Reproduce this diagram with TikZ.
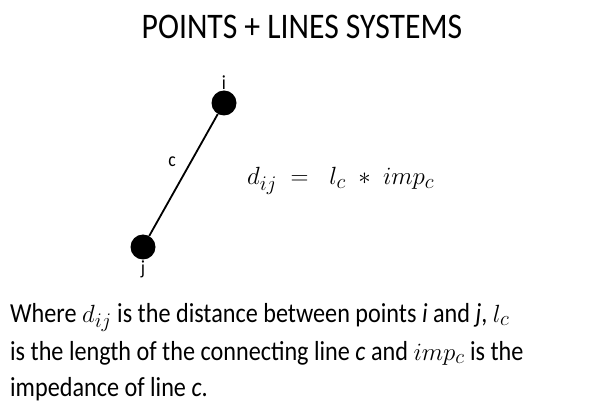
\documentclass[tikz,border=0pt]{standalone}
\usepackage{fontspec}
\setmainfont{Carlito}[FakeStretch=0.88]
\usetikzlibrary{positioning}

\begin{document}
\begin{tikzpicture}[
    x=1pt, y=-1pt,
    point/.style={circle, fill=black, inner sep=0pt, minimum size=25pt},
    plabel/.style={font=\fontsize{20}{24}\selectfont, inner sep=1pt},
    link/.style={line width=1.8pt},
    body/.style={anchor=base west, font=\fontsize{27.5}{37}\selectfont, inner sep=0pt}
]
\useasboundingbox (0,0) rectangle (592,406);

\node[font=\fontsize{36}{40}\selectfont, anchor=base, inner sep=0pt] (title) at (302,39) {POINTS + LINES SYSTEMS};

% the two points and their line
\node[point] (pi) at (224,103) {};
\node[point] (pj) at (143,247) {};
\draw[link] (pj) -- (pi);

\node[plabel, above=0pt of pi] (li) {i};
\node[plabel, below=0pt of pj] (lj) {j};
\node[plabel] (lc) at (172,162) {c};

% formula
\node[anchor=base west, inner sep=0pt, font=\fontsize{29}{34}\selectfont] (eq) at (247,185)
    {$d_{ij} \;=\;\; l_c \;*\; imp_c$};

% explanation
\node[body] (line1) at (10,322) {Where $d_{ij}$ is the distance between points \textit{i} and \textit{j}, $l_c$};
\node[body] (line2) at (10,360) {is the length of the connecting line \textit{c} and $imp_c$ is the};
\node[body] (line3) at (10,396) {impedance of line \textit{c}.};

\end{tikzpicture}
\end{document}
